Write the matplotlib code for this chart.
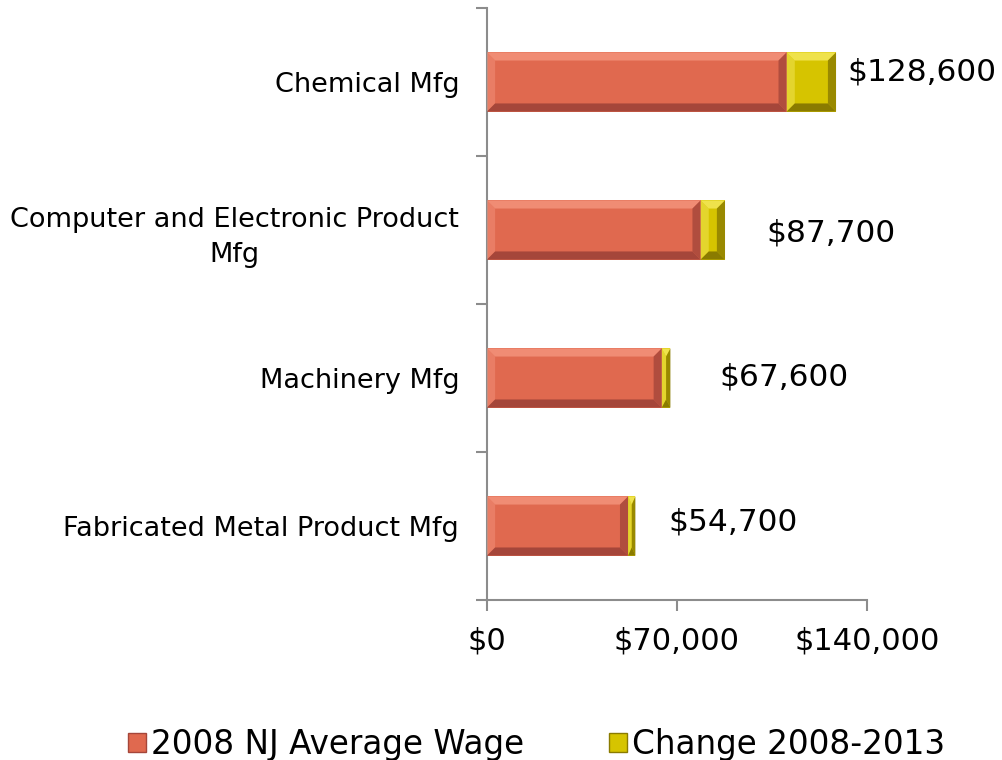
import matplotlib
matplotlib.use("Agg")
import matplotlib.pyplot as plt
from matplotlib.patches import Polygon, Patch
from matplotlib.ticker import FuncFormatter

# data
kategorier = ["Fabricated Metal Product Mfg", "Machinery Mfg",
              "Computer and Electronic Product\nMfg", "Chemical Mfg"]
lonn_2008 = [52000, 64400, 78700, 110400]
endring = [2700, 3200, 9000, 18200]
etiketter = ["$54,700", "$67,600", "$87,700", "$128,600"]
xticks = [0, 70000, 140000]

# label offsets in points (dx, dy) from bar end
etikett_offset = [(24, 3), (35, 1), (30, -2), (8, 7)]

farger = {
    "rod": ("#E0694F", "#F08C74", "#A5463A"),
    "gul": ("#D6C400", "#EFE24C", "#8A7B00"),
}


def tegn_fas(ax, patch, farge, bx, by):
    """Legger en enkel fasing (bevel) oppå en stolpe."""
    x0, y0 = patch.get_x(), patch.get_y()
    w, h = patch.get_width(), patch.get_height()
    x1, y1 = x0 + w, y0 + h
    bx = min(bx, w / 2.0)
    hoved, lys, mork = farge
    # topp og venstre lys, bunn og hoyre mork
    ax.add_patch(Polygon([(x0, y1), (x1, y1), (x1 - bx, y1 - by), (x0 + bx, y1 - by)],
                         closed=True, fc=lys, ec="none", zorder=3))
    ax.add_patch(Polygon([(x0, y0), (x0, y1), (x0 + bx, y1 - by), (x0 + bx, y0 + by)],
                         closed=True, fc=lys, ec="none", alpha=0.6, zorder=3))
    ax.add_patch(Polygon([(x0, y0), (x1, y0), (x1 - bx, y0 + by), (x0 + bx, y0 + by)],
                         closed=True, fc=mork, ec="none", zorder=3))
    ax.add_patch(Polygon([(x1, y0), (x1, y1), (x1 - bx, y1 - by), (x1 - bx, y0 + by)],
                         closed=True, fc=mork, ec="none", alpha=0.8, zorder=3))


fig = plt.figure(figsize=(10.03, 7.6), dpi=100)
ax = fig.add_axes([0.4855, 0.2105, 0.3789, 0.779])

y = list(range(len(kategorier)))
hoyde = 0.4
b1 = ax.barh(y, lonn_2008, height=hoyde, color=farger["rod"][0], zorder=2)
b2 = ax.barh(y, endring, left=lonn_2008, height=hoyde, color=farger["gul"][0], zorder=2)

for p in b1.patches:
    tegn_fas(ax, p, farger["rod"], 3000, 0.055)
for p in b2.patches:
    tegn_fas(ax, p, farger["gul"], 3000, 0.055)

for i, tekst in enumerate(etiketter):
    ende = lonn_2008[i] + endring[i]
    dx, dy = etikett_offset[i]
    ax.annotate(tekst, xy=(ende, y[i]), xytext=(dx, dy), textcoords="offset points",
                ha="left", va="center", fontsize=22.5, color="black", zorder=4)

ax.set_xlim(0, 140000)
ax.set_ylim(-0.5, len(kategorier) - 0.5)
ax.set_xticks(xticks)
ax.xaxis.set_major_formatter(FuncFormatter(lambda v, pos: f"${v:,.0f}"))
ax.set_yticks(y)
ax.set_yticklabels(kategorier, fontsize=19.5, ha="right", multialignment="center",
                   linespacing=1.45)
ax.set_yticks([i - 0.5 for i in range(len(kategorier) + 1)], minor=True)
ax.tick_params(axis="y", which="major", length=0, pad=20)
ax.tick_params(axis="y", which="minor", length=8, width=1.5, color="#8c8c8c", direction="out")
ax.tick_params(axis="x", length=8, width=1.5, color="#8c8c8c", labelsize=22, pad=11)

for s in ["top", "right"]:
    ax.spines[s].set_visible(False)
for s in ["left", "bottom"]:
    ax.spines[s].set_color("#8c8c8c")
    ax.spines[s].set_linewidth(1.5)

handles = [Patch(facecolor=farger["rod"][0], edgecolor=farger["rod"][2], label="2008 NJ Average Wage"),
           Patch(facecolor=farger["gul"][0], edgecolor=farger["gul"][2], label="Change 2008-2013")]
fig.legend(handles=handles, loc="lower center", bbox_to_anchor=(0.535, -0.04), ncol=2,
           frameon=False, fontsize=23.5, handlelength=0.55, handleheight=0.55,
           handletextpad=0.15, columnspacing=2.6)

fig.savefig("out.png", dpi=100)
